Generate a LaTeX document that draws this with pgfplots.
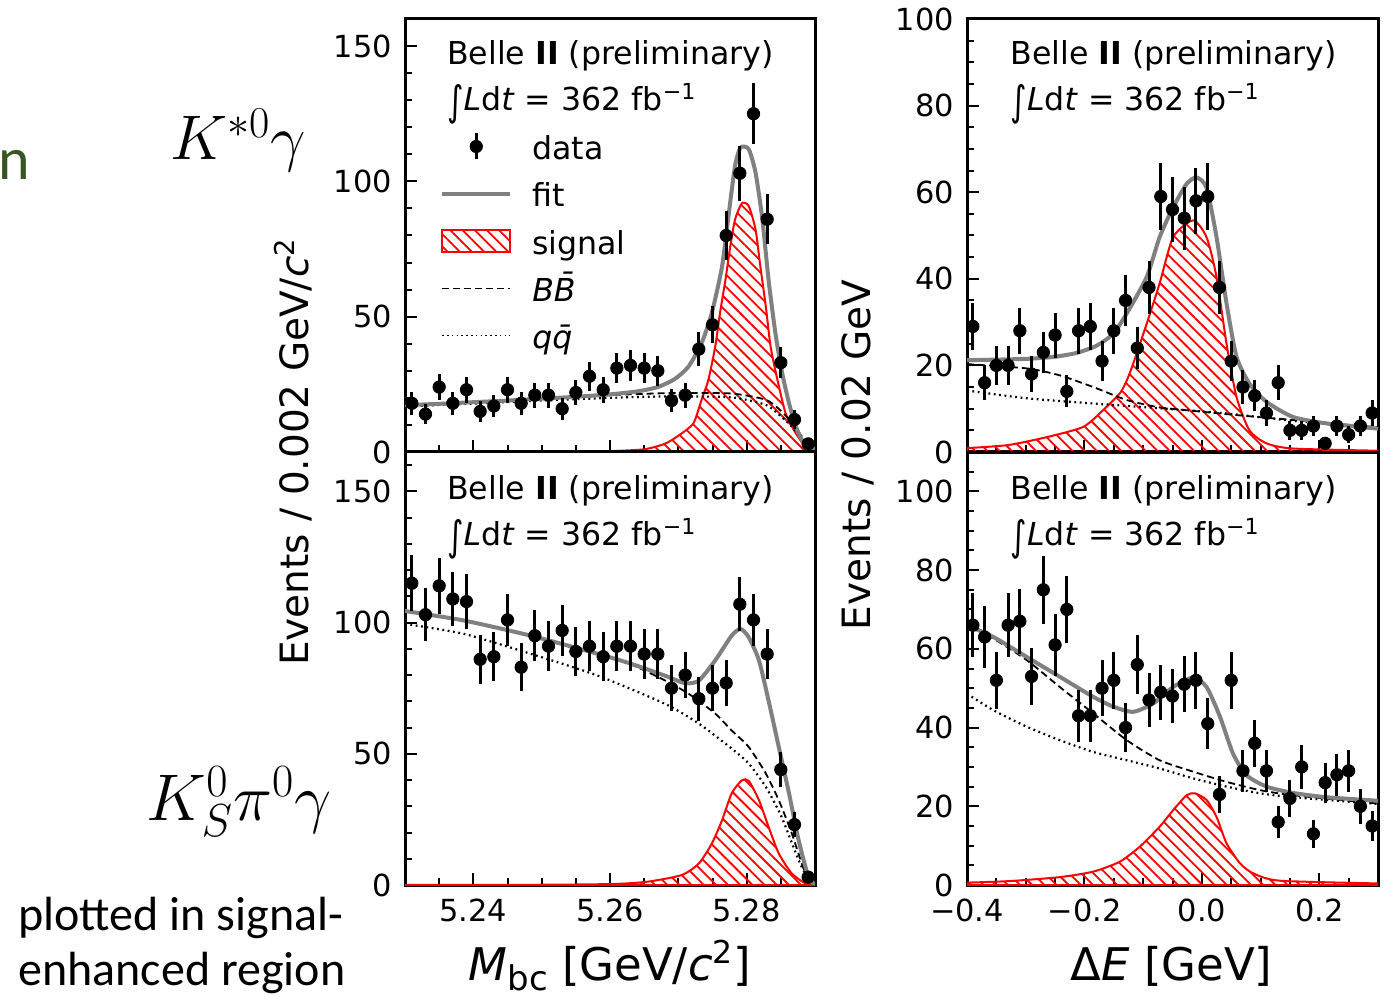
\RequirePackage{fix-cm}
\documentclass[border=0pt]{standalone}
\usepackage{fontspec}
\setmainfont{DejaVu Sans}
\newfontfamily\carlito{Carlito}
\usepackage{graphicx}
\usepackage{pgfplots}
\pgfplotsset{compat=1.18}
\usetikzlibrary{patterns.meta}
\definecolor{fitgray}{HTML}{808080}
\definecolor{pptgreen}{HTML}{375623}
\newcommand\annf{\fontsize{15.8}{19}\selectfont}
\newcommand\intl{\raisebox{-2.5pt}{\scalebox{1}[1.3]{∫}}\textit{L}d\textit{t} = 362 fb\textsuperscript{−1}}
\newcommand\lph{\vphantom{\textit{B\={B}q}}}
\pgfplotsset{
  belle/.style={
    scale only axis, anchor=south west,
    axis line style={line width=1.5pt},
    tick align=inside, xtick pos=bottom, ytick pos=left,
    major tick length=6pt, minor tick length=3.5pt,
    tick style={black, line width=1pt},
    tick label style={font=\fontsize{15.2}{18}\selectfont},
    xticklabel style={yshift=-3.5pt},
    yticklabel style={xshift=-3pt},
    /pgf/number format/assume math mode=true,
  },
  sig/.style={draw=red, line width=1pt, pattern={Lines[angle=-45,distance=4.3pt,line width=0.9pt]}, pattern color=red, smooth, tension=0.4},
  fitl/.style={fitgray, line width=2pt, smooth, tension=0.4},
  bbl/.style={black, line width=0.9pt, dash pattern=on 3.5pt off 2pt, smooth, tension=0.4},
  qql/.style={black, line width=1.1pt, dash pattern=on 0.9pt off 1.8pt, smooth, tension=0.4},
  dat/.style={black, only marks, mark=*, mark size=3.1pt, error bars/y dir=both, error bars/y explicit, error bars/error mark=none, error bars/error bar style={line width=1.5pt}},
  mbcx/.style={xmin=5.23, xmax=5.29, xtick={5.24,5.26,5.28},
    minor xtick={5.235,5.245,5.25,5.255,5.265,5.27,5.275,5.285}},
  dex/.style={xmin=-0.4, xmax=0.3, xtick={-0.4,-0.2,0,0.2},
    minor xtick={-0.35,-0.3,-0.25,-0.15,-0.1,-0.05,0.05,0.1,0.15,0.25}},
}
\begin{document}
\begin{tikzpicture}
\useasboundingbox (0,0) rectangle (695.5pt,498pt);

% ---------------- top left: K*0 gamma, Mbc ----------------
\begin{axis}[belle, mbcx, at={(202.5pt,272pt)}, width=205pt, height=216.5pt,
  ymin=0, ymax=160, ytick={0,50,100,150}, yticklabels={0,50,100,150},
  minor ytick={10,20,30,40,60,70,80,90,110,120,130,140},
  xticklabels={},
  legend style={draw=none, fill=none, at={(rel axis cs:0.085,0.753)}, anchor=north west,
    inner sep=0pt, row sep=3.5pt, font=\annf,
    /tikz/every odd column/.append style={column sep=8pt}},
  legend cell align=left]
\addlegendimage{legend image code/.code={\draw[black,line width=1.5pt] (17pt,-6.5pt)--(17pt,6.5pt); \fill[black] (17pt,0pt) circle (3.1pt);}}
\addlegendentry{data\lph}
\addlegendimage{legend image code/.code={\draw[fitgray,line width=2pt] (0pt,0pt)--(34pt,0pt);}}
\addlegendentry{fit\lph}
\addlegendimage{legend image code/.code={\draw[red,line width=0.8pt,pattern={Lines[angle=-45,distance=4.3pt,line width=0.9pt]},pattern color=red] (0pt,-5.5pt) rectangle (34pt,5.5pt);}}
\addlegendentry{signal\lph}
\addlegendimage{legend image code/.code={\draw[black,line width=0.7pt,dash pattern=on 3.5pt off 2pt] (0pt,0pt)--(34pt,0pt);}}
\addlegendentry{\textit{B\={B}}\lph}
\addlegendimage{legend image code/.code={\draw[black,line width=0.8pt,dash pattern=on 0.8pt off 1.6pt] (0pt,0pt)--(34pt,0pt);}}
\addlegendentry{\textit{q\={q}}\lph}
\addplot[forget plot, sig] coordinates {(5.230,0) (5.250,0) (5.256,0.1) (5.260,0.3) (5.265,1.0) (5.268,3.0) (5.270,6.0) (5.2722,10.6) (5.2734,19.3) (5.2744,26.7) (5.2754,39.0) (5.2761,51.4) (5.2769,63.7) (5.2776,76.0) (5.2783,85.9) (5.2793,91.9) (5.2803,90.9) (5.2813,82.2) (5.2820,68.6) (5.2828,53.8) (5.2835,39.0) (5.2845,26.7) (5.2857,14.3) (5.2872,6.9) (5.2886,2.0) (5.2900,0.5)} \closedcycle;
\addplot[forget plot, bbl] coordinates {(5.230,17.2) (5.240,18.3) (5.250,19.6) (5.260,21.0) (5.265,21.5) (5.270,21.8) (5.2778,21.6) (5.2828,19.3) (5.2851,15.0) (5.2869,10.0) (5.288,6.0) (5.289,2.5) (5.290,0)};
\addplot[forget plot, qql] coordinates {(5.230,16.8) (5.240,17.9) (5.250,19.0) (5.260,20.0) (5.265,20.4) (5.270,20.5) (5.2778,20.2) (5.2828,17.4) (5.2851,13.0) (5.2866,9.4) (5.288,5.0) (5.289,2.0) (5.290,0)};
\addplot[forget plot, fitl] coordinates {(5.230,17.3) (5.235,17.8) (5.240,18.4) (5.245,19.0) (5.250,19.7) (5.255,20.4) (5.260,21.3) (5.264,22.4) (5.267,24.0) (5.2695,27.0) (5.2715,31.6) (5.2734,40.2) (5.2749,51.4) (5.2764,68.6) (5.2774,88.4) (5.2783,105.7) (5.2791,112.5) (5.2803,111.9) (5.2813,103.2) (5.2823,85.9) (5.2832,63.7) (5.2842,44.0) (5.2852,29.1) (5.2862,18.0) (5.2872,9.4) (5.2881,4.4) (5.2891,2.0) (5.2900,1.0)};
\addplot[forget plot, dat] table[x=x, y=y, y error=e] {
x y e
5.231 18 4.2
5.233 14 3.7
5.235 24 4.9
5.237 18 4.2
5.239 23 4.8
5.241 15 3.9
5.243 17 4.1
5.245 23 4.8
5.247 18 4.2
5.249 21 4.6
5.251 21 4.6
5.253 16 4.0
5.255 22 4.7
5.257 28 5.3
5.259 23 4.8
5.261 31 5.6
5.263 32 5.7
5.265 31 5.6
5.267 30 5.5
5.269 19 4.4
5.271 21 4.6
5.273 38 6.2
5.275 47 6.9
5.277 80 8.9
5.279 103 10.1
5.281 125 11.2
5.283 86 9.3
5.285 33 5.7
5.287 12 3.5
5.289 3 1.7
};
\node[anchor=base west, font=\annf, inner sep=0pt] at (rel axis cs:0.102,0.894) {Belle \textbf{II} (preliminary)};
\node[anchor=base west, font=\annf, inner sep=0pt] at (rel axis cs:0.102,0.788) {\intl};
\end{axis}

% ---------------- bottom left: KS pi0 gamma, Mbc ----------------
\begin{axis}[belle, mbcx, at={(202.5pt,55.5pt)}, width=205pt, height=216.5pt,
  ymin=0, ymax=165, ytick={0,50,100,150}, yticklabels={0,50,100,150},
  minor ytick={10,20,30,40,60,70,80,90,110,120,130,140,160},
  xticklabels={5.24,5.26,5.28}]
\addplot[sig] coordinates {(5.230,0) (5.250,0.1) (5.2607,0.4) (5.2656,1.3) (5.2705,3.8) (5.2730,8.2) (5.2749,15.8) (5.2764,24.7) (5.2778,34.9) (5.2793,39.9) (5.2803,39.7) (5.2818,32.3) (5.2832,22.2) (5.2847,12.0) (5.2866,4.4) (5.2886,0.6) (5.2900,0.2)} \closedcycle;
\addplot[bbl] coordinates {(5.230,104.3) (5.2386,100.7) (5.2484,94.9) (5.2582,88.0) (5.2631,84.0) (5.2680,78.0) (5.2715,72.9) (5.2754,65.3) (5.2778,58.9) (5.2803,52.6) (5.2828,42.5) (5.2847,32.3) (5.2866,19.7) (5.2886,4.4) (5.2900,0.3)};
\addplot[qql] coordinates {(5.230,99.5) (5.2386,95.7) (5.2484,88.1) (5.2582,79.8) (5.2680,69.1) (5.2730,61.5) (5.2778,52.0) (5.2803,46.3) (5.2828,37.4) (5.2851,26.0) (5.2876,9.5) (5.2891,1.9) (5.2900,0)};
\addplot[fitl] coordinates {(5.230,104.4) (5.2386,100.8) (5.2484,95.0) (5.2582,88.1) (5.2631,84.3) (5.2680,79.8) (5.2710,76.9) (5.2730,77.9) (5.2754,85.6) (5.2778,95.0) (5.2791,97.6) (5.2803,94.4) (5.2818,85.6) (5.2832,70.3) (5.2847,52.6) (5.2862,34.9) (5.2876,17.1) (5.2891,2.5) (5.2900,0.5)};
\addplot[dat] table[x=x, y=y, y error=e] {
x y e
5.231 115 10.7
5.233 103 10.1
5.235 114 10.7
5.237 109 10.4
5.239 108 10.4
5.241 86 9.3
5.243 87 9.3
5.245 101 10.0
5.247 83 9.1
5.249 95 9.7
5.251 91 9.5
5.253 97 9.8
5.255 89 9.4
5.257 91 9.5
5.259 87 9.3
5.261 91 9.5
5.263 91 9.5
5.265 88 9.4
5.267 88 9.4
5.269 75 8.7
5.271 80 8.9
5.273 71 8.4
5.275 75 8.7
5.277 77 8.8
5.279 107 10.3
5.281 101 10.0
5.283 88 9.4
5.285 44 6.6
5.287 23 4.8
5.289 3 1.7
};
\node[anchor=base west, font=\annf, inner sep=0pt] at (rel axis cs:0.102,0.891) {Belle \textbf{II} (preliminary)};
\node[anchor=base west, font=\annf, inner sep=0pt] at (rel axis cs:0.102,0.783) {\intl};
\end{axis}

% ---------------- top right: K*0 gamma, Delta E ----------------
\begin{axis}[belle, dex, at={(483.5pt,272pt)}, width=205.5pt, height=216.5pt,
  ymin=0, ymax=100, ytick={0,20,40,60,80,100}, yticklabels={0,20,40,60,80,100},
  minor ytick={5,10,15,25,30,35,45,50,55,65,70,75,85,90,95},
  xticklabels={}]
\addplot[sig] coordinates {(-0.400,0.9) (-0.330,1.6) (-0.262,3.5) (-0.202,5.8) (-0.168,9.7) (-0.140,13.5) (-0.128,16.5) (-0.117,20.4) (-0.094,29.6) (-0.072,38.9) (-0.049,49.6) (-0.015,53.5) (0.008,49.6) (0.025,40.4) (0.042,25.0) (0.059,12.7) (0.081,5.0) (0.110,2.0) (0.155,0.8) (0.300,0.3)} \closedcycle;
\addplot[bbl] coordinates {(-0.400,20.3) (-0.298,19.3) (-0.242,17.7) (-0.185,15.0) (-0.128,12.0) (-0.072,10.3) (-0.015,9.5) (0.069,8.4) (0.155,7.4) (0.300,5.7)};
\addplot[qql] coordinates {(-0.400,14.2) (-0.298,12.4) (-0.185,11.2) (-0.072,10.1) (0.042,8.9) (0.155,7.2) (0.300,5.7)};
\addplot[fitl] coordinates {(-0.400,21.2) (-0.300,21.5) (-0.250,22.0) (-0.213,22.9) (-0.180,24.5) (-0.151,27.3) (-0.128,32.0) (-0.094,40.4) (-0.072,49.6) (-0.049,56.5) (-0.026,61.9) (-0.009,63.4) (0.008,61.0) (0.025,49.6) (0.042,34.3) (0.059,22.0) (0.081,15.8) (0.110,11.6) (0.155,8.1) (0.212,6.6) (0.300,5.4)};
\addplot[dat] table[x=x, y=y, y error=e] {
x y e
-0.39 29 5.4
-0.37 16 4.0
-0.35 20 4.5
-0.33 20 4.5
-0.31 28 5.3
-0.29 18 4.2
-0.27 23 4.8
-0.25 27 5.2
-0.23 14 3.7
-0.21 28 5.3
-0.19 29 5.4
-0.17 21 4.6
-0.15 28 5.3
-0.13 35 5.9
-0.11 24 4.9
-0.09 38 6.2
-0.07 59 7.7
-0.05 56 7.5
-0.03 54 7.3
-0.01 58 7.6
0.01 59 7.7
0.03 38 6.2
0.05 21 4.6
0.07 15 3.9
0.09 13 3.6
0.11 9 3.0
0.13 16 4.0
0.15 5 2.2
0.17 5 2.2
0.19 6 2.4
0.21 2 1.4
0.23 6 2.4
0.25 4 2.0
0.27 6 2.4
0.29 9 3.0
};
\node[anchor=base west, font=\annf, inner sep=0pt] at (rel axis cs:0.105,0.894) {Belle \textbf{II} (preliminary)};
\node[anchor=base west, font=\annf, inner sep=0pt] at (rel axis cs:0.105,0.788) {\intl};
\end{axis}

% ---------------- bottom right: KS pi0 gamma, Delta E ----------------
\begin{axis}[belle, dex, at={(483.5pt,55.5pt)}, width=205.5pt, height=216.5pt,
  ymin=0, ymax=110, ytick={0,20,40,60,80,100}, yticklabels={0,20,40,60,80,100},
  minor ytick={5,10,15,25,30,35,45,50,55,65,70,75,85,90,95,105},
  xticklabels={−0.4,−0.2,0.0,0.2}]
\addplot[sig] coordinates {(-0.400,0.6) (-0.327,1.0) (-0.242,2.0) (-0.185,3.4) (-0.140,5.9) (-0.106,9.7) (-0.072,14.8) (-0.049,19.0) (-0.026,22.8) (-0.012,23.3) (0.008,21.6) (0.025,17.3) (0.042,10.6) (0.065,5.5) (0.087,3.0) (0.132,1.1) (0.300,0.4)} \closedcycle;
\addplot[bbl] coordinates {(-0.400,66.0) (-0.355,62.6) (-0.298,57.1) (-0.242,50.3) (-0.185,43.6) (-0.128,36.8) (-0.072,31.7) (-0.015,28.8) (0.042,26.2) (0.099,24.1) (0.155,22.8) (0.300,20.7)};
\addplot[qql] coordinates {(-0.400,48.6) (-0.355,44.4) (-0.298,40.2) (-0.242,36.8) (-0.185,33.8) (-0.128,31.7) (-0.072,29.6) (-0.015,27.1) (0.042,25.0) (0.099,23.3) (0.155,22.3) (0.300,20.6)};
\addplot[fitl] coordinates {(-0.400,66.0) (-0.355,63.0) (-0.298,57.9) (-0.242,52.9) (-0.185,47.8) (-0.151,45.3) (-0.117,44.0) (-0.083,46.1) (-0.049,50.3) (-0.015,52.7) (0.008,50.3) (0.031,42.7) (0.053,33.4) (0.076,27.9) (0.110,25.0) (0.155,23.4) (0.212,22.3) (0.300,21.4)};
\addplot[dat] table[x=x, y=y, y error=e] {
x y e
-0.39 66 8.1
-0.37 63 7.9
-0.35 52 7.2
-0.33 66 8.1
-0.31 67 8.2
-0.29 53 7.3
-0.27 75 8.7
-0.25 61 7.8
-0.23 70 8.4
-0.21 43 6.6
-0.19 43 6.6
-0.17 50 7.1
-0.15 52 7.2
-0.13 40 6.3
-0.11 56 7.5
-0.09 47 6.9
-0.07 49 7.0
-0.05 48 6.9
-0.03 51 7.1
-0.01 52 7.2
0.01 41 6.4
0.03 23 4.8
0.05 52 7.2
0.07 29 5.4
0.09 36 6.0
0.11 29 5.4
0.13 16 4.0
0.15 22 4.7
0.17 30 5.5
0.19 13 3.6
0.21 26 5.1
0.23 28 5.3
0.25 29 5.4
0.27 20 4.5
0.29 15 3.9
};
\node[anchor=base west, font=\annf, inner sep=0pt] at (rel axis cs:0.105,0.891) {Belle \textbf{II} (preliminary)};
\node[anchor=base west, font=\annf, inner sep=0pt] at (rel axis cs:0.105,0.783) {\intl};
\end{axis}

% ---------------- labels ----------------
\node[rotate=90, font=\fontsize{19.5}{23}\selectfont] at (146.5pt,272pt) {Events / 0.002 GeV/\textit{c}\textsuperscript{2}};
\node[rotate=90, font=\fontsize{19.5}{23}\selectfont] at (429pt,270.5pt) {Events / 0.02 GeV};
\node[anchor=base, inner sep=0pt, font=\fontsize{22.5}{26}\selectfont] at (305pt,8pt) {\textit{M}\raisebox{-5pt}{\fontsize{17}{20}\selectfont bc} [GeV/\textit{c}\textsuperscript{2}]};
\node[anchor=base, inner sep=0pt, font=\fontsize{22.5}{26}\selectfont] at (585.75pt,8pt) {Δ\textit{E} [GeV]};
\node[anchor=base, font=\fontsize{31.5}{36}\selectfont] at (119pt,418pt) {$K^{*0}\gamma$};
\node[anchor=base, font=\fontsize{33}{38}\selectfont] at (119.5pt,88pt) {$K_S^0\pi^0\gamma$};
\node[anchor=base west, inner sep=0pt, font=\carlito\fontsize{24}{28}\selectfont] at (9pt,33pt) {plotted in signal-};
\node[anchor=base west, inner sep=0pt, font=\carlito\fontsize{24}{28}\selectfont] at (9pt,5.5pt) {enhanced region};
\node[anchor=base east, inner sep=0pt, text=pptgreen, font=\carlito\fontsize{30}{36}\selectfont] at (15pt,408pt) {n};
\end{tikzpicture}
\end{document}
